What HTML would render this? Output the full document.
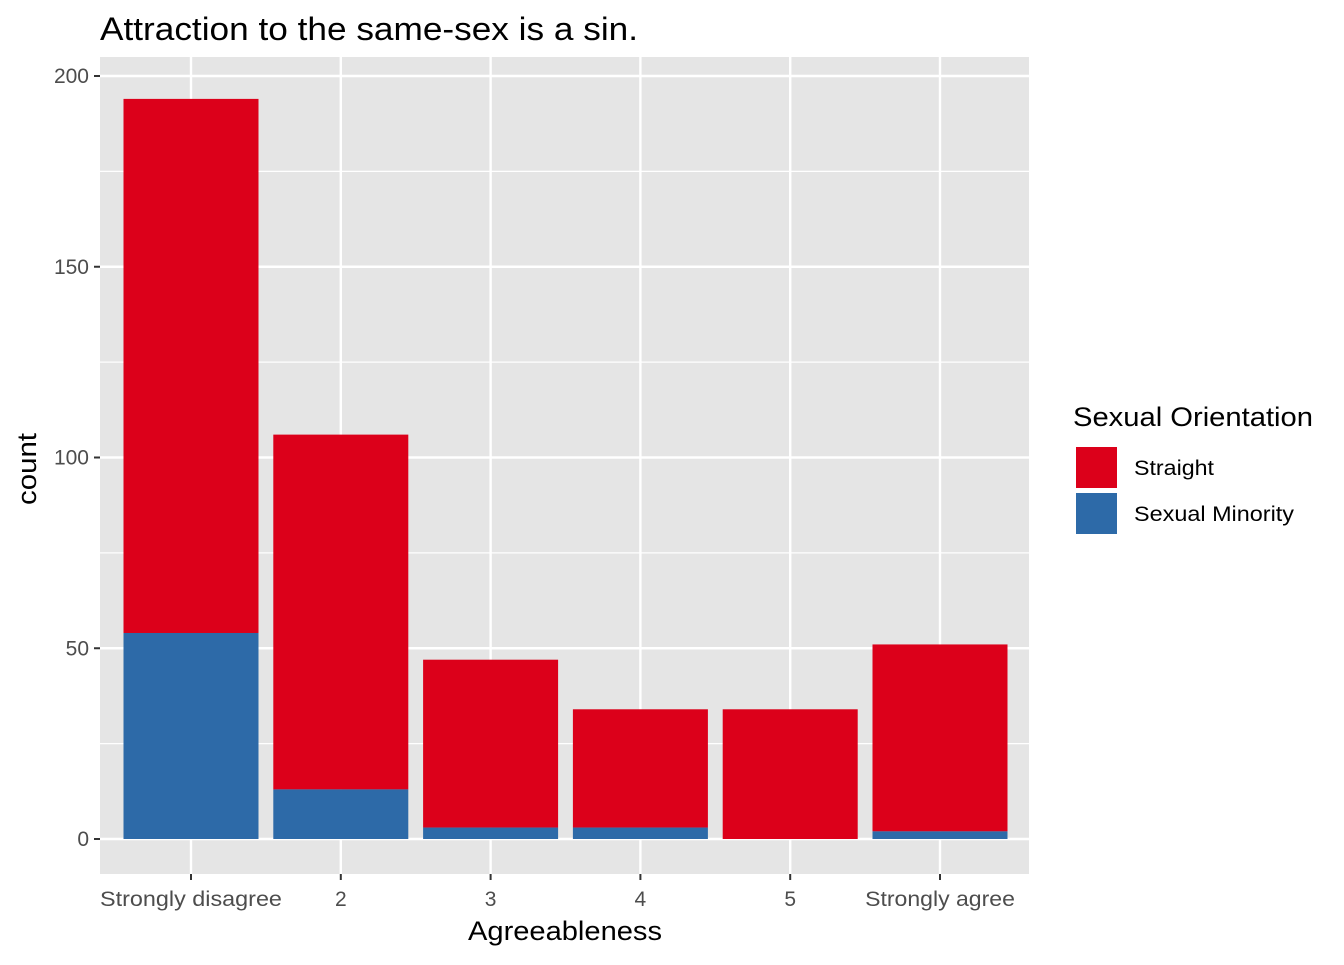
<!DOCTYPE html>
<html><head><meta charset="utf-8"><style>
body{margin:0;background:#fff;}
svg text{font-family:"Liberation Sans",Arial,sans-serif;}
</style></head><body>
<svg id="chart" width="1344" height="960" xmlns="http://www.w3.org/2000/svg">
<text x="100" y="40" font-size="32" fill="#000" textLength="538" lengthAdjust="spacingAndGlyphs">Attraction to the same-sex is a sin.</text>
<rect x="100" y="57" width="929" height="817" fill="#e5e5e5"/>
<g id="grid"></g>
<g id="bars"></g>
<g id="axes"></g>
<text x="565" y="940" font-size="27" text-anchor="middle" fill="#000" textLength="194" lengthAdjust="spacingAndGlyphs">Agreeableness</text>
<text transform="translate(36,469) rotate(-90)" font-size="27" text-anchor="middle" fill="#000" textLength="72" lengthAdjust="spacingAndGlyphs">count</text>
<g>
<text x="1073" y="426" font-size="27" fill="#000" textLength="240" lengthAdjust="spacingAndGlyphs">Sexual Orientation</text>
<rect x="1075" y="446" width="43" height="43" fill="#dc001a" stroke="#fff" stroke-width="2"/>
<text x="1134" y="475" font-size="21" fill="#000" textLength="80" lengthAdjust="spacingAndGlyphs">Straight</text>
<rect x="1075" y="492" width="43" height="43" fill="#2d6aa8" stroke="#fff" stroke-width="2"/>
<text x="1134" y="521" font-size="21" fill="#000" textLength="160" lengthAdjust="spacingAndGlyphs">Sexual Minority</text>
</g>
</svg>
<script>
const categories=["Strongly disagree","2","3","4","5","Strongly agree"];
const minority=[54,13,3,3,0,2];
const straight=[140,93,44,31,34,49];
const yTicks=[0,50,100,150,200];
const yMinor=[25,75,125,175];
const NS="http://www.w3.org/2000/svg";
function y(v){return 839-v*(839-76)/200;}
function x(i){return 191+i*149.8;}
const bw=135;
function mk(tag,attrs,parent){const e=document.createElementNS(NS,tag);for(const k in attrs)e.setAttribute(k,attrs[k]);parent.appendChild(e);return e;}
const grid=document.getElementById('grid'),bars=document.getElementById('bars'),axes=document.getElementById('axes');
yMinor.forEach(v=>{const l=mk('line',{x1:100,x2:1029,y1:y(v),y2:y(v),stroke:'#fff','stroke-width':1.2},grid);

});
yTicks.forEach(v=>{const l=mk('line',{x1:100,x2:1029,y1:y(v),y2:y(v),stroke:'#fff','stroke-width':2.4},grid);


const t=mk('line',{x1:94,x2:100,y1:y(v),y2:y(v),stroke:'#333','stroke-width':2},axes);


const tx=mk('text',{x:89,y:y(v)+7,'font-size':21,'text-anchor':'end',fill:'#4d4d4d'},axes);tx.textContent=v;

});
categories.forEach((c,i)=>{const l=mk('line',{x1:x(i),x2:x(i),y1:57,y2:874,stroke:'#fff','stroke-width':2.4},grid);


const s=mk('rect',{x:x(i)-bw/2,y:y(minority[i]+straight[i]),width:bw,height:y(minority[i])-y(minority[i]+straight[i]),fill:'#dc001a'},bars);


const m=mk('rect',{x:x(i)-bw/2,y:y(minority[i]),width:bw,height:y(0)-y(minority[i]),fill:'#2d6aa8'},bars);


const t=mk('line',{x1:x(i),x2:x(i),y1:874,y2:880,stroke:'#333','stroke-width':2},axes);


const attrs={x:x(i),y:906,'font-size':21,'text-anchor':'middle',fill:'#4d4d4d'};
if(c.length>3){attrs.textLength=c.length*10.7;attrs.lengthAdjust='spacingAndGlyphs';}
const tx=mk('text',attrs,axes);tx.textContent=c;

});
</script>
</body></html>
